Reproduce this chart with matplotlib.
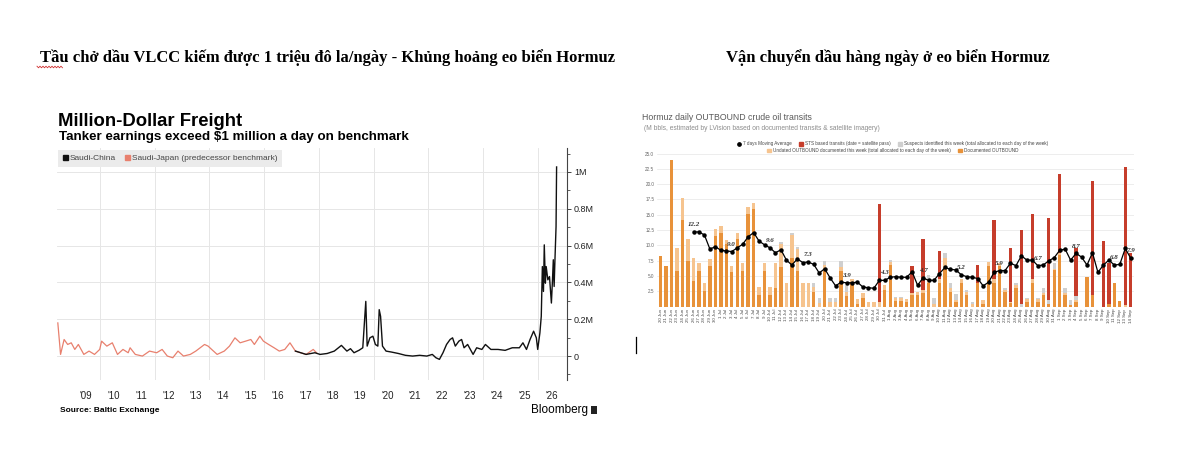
import matplotlib
matplotlib.use("Agg")
import matplotlib.pyplot as plt
from matplotlib.lines import Line2D
from matplotlib.patches import Patch, Rectangle
import numpy as np
import pandas as pd

# ---------------- left chart: Saudi freight earnings ($M / day) ----------------
japan_years = [2008.46, 2008.56, 2008.69, 2008.82, 2008.95, 2009.08, 2009.21, 2009.41, 2009.60,
               2009.80, 2009.99, 2010.06, 2010.25, 2010.45, 2010.64, 2010.84, 2011.03, 2011.10,
               2011.29, 2011.55, 2011.81, 2012.07, 2012.27, 2012.46, 2012.66, 2012.85, 2013.05,
               2013.30, 2013.50, 2013.82, 2013.95, 2014.08, 2014.28, 2014.54, 2014.73, 2014.93,
               2015.12, 2015.32, 2015.51, 2015.64, 2015.84, 2015.97, 2016.16, 2016.36, 2016.55,
               2016.75, 2016.94, 2017.14, 2017.33, 2017.53, 2017.79, 2017.91]
japan_vals = [0.180, 0.009, 0.090, 0.063, 0.072, 0.036, 0.063, 0.009, 0.027,
              0.009, 0.036, 0.081, 0.054, 0.072, 0.009, 0.036, 0.018, 0.045,
              0.009, 0.000, 0.027, 0.018, 0.036, 0.000, -0.009, 0.027, 0.000,
              0.009, 0.027, 0.063, 0.054, 0.036, 0.009, 0.027, 0.054, 0.099,
              0.072, 0.081, 0.090, 0.063, 0.108, 0.081, 0.063, 0.045, 0.027,
              0.036, 0.072, 0.027, 0.018, 0.009, 0.036, 0.018]

china_years = [2017.14, 2017.53, 2017.85, 2018.04, 2018.30, 2018.56, 2018.82, 2019.02, 2019.15,
               2019.28, 2019.47, 2019.60, 2019.71, 2019.76, 2019.86, 2019.97, 2020.06, 2020.15,
               2020.20, 2020.25, 2020.32, 2020.45, 2020.64, 2020.90, 2021.16, 2021.42, 2021.68,
               2021.94, 2022.14, 2022.27, 2022.40, 2022.53, 2022.66, 2022.79, 2022.88, 2022.98,
               2023.11, 2023.21, 2023.30, 2023.43, 2023.63, 2023.76, 2023.95, 2024.08, 2024.28,
               2024.54, 2024.80, 2025.06, 2025.32, 2025.45, 2025.58, 2025.71, 2025.84, 2025.94,
               2025.99, 2026.07, 2026.12, 2026.16, 2026.20, 2026.23, 2026.27, 2026.30, 2026.36,
               2026.42, 2026.49, 2026.53, 2026.56, 2026.59, 2026.62, 2026.66, 2026.68]
china_vals = [0.027, 0.009, 0.018, 0.009, 0.014, 0.027, 0.058, 0.027, 0.040,
              0.018, 0.032, 0.045, 0.297, 0.054, 0.099, 0.108, 0.063, 0.054,
              0.252, 0.216, 0.054, 0.027, 0.022, 0.014, 0.004, 0.000, 0.004,
              0.000, 0.009, -0.009, -0.018, 0.018, 0.063, 0.090, 0.099, 0.054,
              0.081, 0.090, 0.045, 0.063, 0.009, 0.045, 0.036, 0.063, 0.036,
              0.036, 0.031, 0.045, 0.045, 0.072, 0.036, 0.090, 0.135, 0.099,
              0.036, 0.126, 0.216, 0.486, 0.351, 0.604, 0.396, 0.486, 0.414,
              0.432, 0.288, 0.414, 0.523, 0.378, 0.523, 0.703, 1.027]

year_labels = ["'09", "'10", "'11", "'12", "'13", "'14", "'15", "'16", "'17",
               "'18", "'19", "'20", "'21", "'22", "'23", "'24", "'25", "'26"]
money_ticks = [0, 0.2, 0.4, 0.6, 0.8, 1.0]
money_labels = ["0", "0.2M", "0.4M", "0.6M", "0.8M", "1M"]

# ---------------- right chart: Hormuz daily outbound transits (M bbls) ----------------
days = [f"{d.day} {d:%b}" for d in pd.date_range("2025-06-20", "2025-09-14")]

documented = [8.3, 6.6, 23.9, 5.9, 14.1, 7.4, 4.2, 5.9, 2.6, 6.6,
              11.5, 12.0, 10.3, 5.6, 11.0, 5.9, 15.1, 15.9, 1.9, 5.9,
              1.9, 3.1, 6.4, 0, 7.9, 5.9, 0, 0, 2.4, 0,
              5.9, 0, 0, 5.9, 1.8, 4.1, 0.4, 1.4, 0, 0,
              0, 2.8, 6.8, 1.0, 1.0, 0.7, 1.9, 1.9, 2.2, 3.9,
              0, 3.8, 6.2, 2.4, 0.7, 3.9, 1.9, 0, 3.9, 0.4,
              6.6, 3.8, 6.6, 2.4, 0.6, 3.0, 0, 0.8, 3.8, 0.8,
              1.9, 0.4, 6.0, 8.4, 1.9, 0.3, 0.7, 0, 4.9, 1.9,
              0, 0, 0.4, 3.9, 1.0, 0, 0]
undated = [0, 0, 0, 3.7, 3.7, 3.7, 3.8, 1.2, 1.2, 1.2,
           1.2, 1.2, 0.6, 1.1, 1.1, 1.2, 1.1, 1.1, 1.3, 1.2,
           1.3, 4.0, 3.8, 3.8, 3.8, 3.5, 3.8, 3.8, 0.8, 0.6,
           0.9, 0.8, 0.8, 0.6, 0.6, 0.5, 0.8, 0.8, 0.8, 0.8,
           0.7, 0.7, 0.5, 0.4, 0.4, 0.5, 0.4, 0.5, 0.5, 0.7,
           0.4, 0.8, 1.7, 0.6, 0.4, 0.7, 0.5, 0.4, 0, 0.7,
           0.7, 0.8, 0.5, 0.3, 0.2, 0.5, 0, 0.4, 0.8, 0.4,
           0.4, 0, 0.2, 0.3, 0.4, 0, 0.4, 0, 0, 0,
           0, 0, 0, 0, 0, 0.2, 0]
suspects = [0, 0, 0, 0, 0, 0, 0, 0, 0, 0,
            0, 0, 0, 0, 0, 0, 0, 0, 0, 0,
            0, 0, 0.3, 0, 0.3, 0.4, 0, 0, 0.7, 0.8,
            0.6, 0.6, 0.6, 0.9, 1.1, 0, 0, 0, 0, 0,
            0, 0, 0.3, 0.2, 0.2, 0, 0, 0, 0, 0.5,
            1.0, 0, 0.8, 0.8, 1.0, 0, 0.4, 0.4, 0, 0,
            0, 0, 0, 0.3, 0, 0.4, 0.5, 0.2, 0, 0.3,
            0.7, 0.7, 0.9, 0, 0.8, 0.8, 0.6, 0, 0, 0,
            0, 0, 0, 0, 0, 0, 0]
sts = [0, 0, 0, 0, 0, 0, 0, 0, 0, 0,
       0, 0, 0, 0, 0, 0, 0, 0, 0, 0,
       0, 0, 0, 0, 0, 0, 0, 0, 0, 0,
       0, 0, 0, 0, 0, 0, 0, 0, 0, 0,
       16.0, 0, 0, 0, 0, 0, 4.3, 0, 8.4, 0,
       0, 4.5, 0, 0, 0, 0, 0, 0, 2.9, 0,
       0, 9.6, 0, 0, 8.7, 0, 12.0, 0, 10.6, 0,
       0, 13.4, 0, 12.9, 0, 0, 7.8, 0, 0, 18.6,
       0, 10.7, 6.7, 0, 0, 22.6, 8.7]
moving_avg = [np.nan] * 6 + [
    12.2, 12.2, 11.7, 9.4, 9.8, 9.2, 9.1, 9.0, 9.6, 10.2,
    11.4, 12.1, 10.7, 10.1, 9.6, 8.8, 9.3, 7.6, 6.8, 7.8,
    7.2, 7.3, 6.9, 5.5, 6.2, 4.7, 3.4, 4.0, 3.9, 3.9,
    4.0, 3.2, 3.1, 3.0, 4.3, 4.3, 4.8, 4.9, 4.8, 4.8,
    5.7, 3.5, 4.7, 4.3, 4.3, 5.4, 6.4, 6.1, 6.0, 5.2,
    4.9, 4.8, 4.6, 3.4, 4.0, 5.6, 5.9, 5.9, 7.1, 6.7,
    8.3, 7.6, 7.6, 6.7, 6.8, 7.5, 8.0, 9.2, 9.4, 7.6,
    8.7, 8.1, 6.8, 8.8, 5.6, 6.8, 7.6, 6.8, 6.9, 9.5,
    7.9]
labelled_days = list(range(6, 87, 7)) + [86]

W, H = 1200, 471


def fx(px):
    return px / W


def fy(py):
    return 1 - py / H


def main() -> int:
    plt.rcParams["font.family"] = ["Liberation Sans", "DejaVu Sans"]
    fig = plt.figure(figsize=(12, 4.71), dpi=100)
    fig.patch.set_facecolor("white")

    serif = ["Liberation Serif", "DejaVu Serif"]
    fig.text(fx(327), fy(58), "Tầu chở dầu VLCC kiếm được 1 triệu đô la/ngày - Khủng hoảng eo biển Hormuz",
             family=serif, weight="bold", fontsize=12, ha="center", va="center")
    fig.text(fx(888), fy(58), "Vận chuyển dầu hàng ngày ở eo biển Hormuz",
             family=serif, weight="bold", fontsize=12, ha="center", va="center")
    # spell-check squiggle and text cursor from the screenshot
    sx = np.arange(37, 63, 1.5)
    sy = 67 + np.where(np.arange(len(sx)) % 2 == 0, -0.8, 0.8)
    fig.add_artist(Line2D(fx(sx), fy(sy), color="#d03030", lw=0.6))
    fig.add_artist(Line2D([fx(636), fx(636)], [fy(337), fy(353)], color="black", lw=0.9))

    # ---------------- left chart ----------------
    fig.text(fx(58), fy(121), "Million-Dollar Freight", weight="bold", fontsize=13.3, va="center")
    fig.text(fx(59), fy(137), "Tanker earnings exceed $1 million a day on benchmark",
             weight="bold", fontsize=9.6, va="center")

    ax = fig.add_axes([fx(57), fy(380), fx(567) - fx(57), fy(148) - fy(380)])
    ax.plot(japan_years, japan_vals, color="#e8806e", lw=0.9)
    ax.plot(china_years, china_vals, color="#111111", lw=1.0)
    ax.set_xlim(2008.43, 2027.06)
    ax.set_ylim(-0.13, 1.13)

    ax.yaxis.tick_right()
    ax.set_yticks(money_ticks)
    ax.set_yticklabels(money_labels)
    ax.set_yticks(np.arange(-0.1, 1.15, 0.1), minor=True)
    ax.tick_params(axis="y", which="major", direction="out", length=3, width=0.7,
                   color="#444444", labelsize=6.5, pad=2, labelcolor="#222222")
    ax.tick_params(axis="y", which="minor", direction="out", length=2, width=0.6, color="#444444")
    ax.grid(axis="y", which="major", color="#e6e6e6", lw=0.7)

    ax.set_xticks(np.arange(2009.5, 2027, 1))
    ax.set_xticklabels(year_labels)
    ax.set_xticks(np.arange(2010, 2027, 2), minor=True)
    ax.tick_params(axis="x", which="both", length=0, labelsize=7, pad=8, labelcolor="#222222")
    ax.grid(axis="x", which="minor", color="#e6e6e6", lw=0.7)
    for side in ["top", "left", "bottom"]:
        ax.spines[side].set_visible(False)
    ax.spines["right"].set_color("#444444")
    ax.spines["right"].set_linewidth(0.8)

    leg = ax.legend(handles=[Patch(color="#111111"), Patch(color="#e8806e")],
                    labels=["Saudi-China", "Saudi-Japan (predecessor benchmark)"],
                    ncol=2, loc="upper left", bbox_to_anchor=(fx(58), fy(150)),
                    bbox_transform=fig.transFigure, frameon=True, fancybox=False,
                    facecolor="#ebebeb", edgecolor="none", framealpha=1, fontsize=6,
                    handlelength=0.6, handleheight=0.6, handletextpad=0.3,
                    columnspacing=1.0, borderpad=0.55, borderaxespad=0)
    for t in leg.get_texts():
        t.set_color("#444444")

    fig.text(fx(60), fy(411), "Source: Baltic Exchange", weight="bold", fontsize=6, va="center")
    fig.text(fx(588), fy(410), "Bloomberg", fontsize=8.5, ha="right", va="center")
    fig.add_artist(Rectangle((fx(591), fy(414)), fx(6), 8 / H, transform=fig.transFigure,
                             facecolor="#222222", edgecolor="none"))

    # ---------------- right chart ----------------
    fig.text(fx(642), fy(117), "Hormuz daily OUTBOUND crude oil transits",
             fontsize=6.3, color="#5a5a5a", va="center")
    fig.text(fx(644), fy(128), "(M bbls, estimated by LVision based on documented transits & satellite imagery)",
             fontsize=4.8, color="#8c8c8c", va="center")

    axr = fig.add_axes([fx(657), fy(306.7), fx(1134) - fx(657), fy(153.5) - fy(306.7)])
    x = np.arange(len(days))
    doc = np.array(documented)
    und = np.array(undated)
    sus = np.array(suspects)
    c_doc, c_und, c_sus, c_sts = "#e8923a", "#f6c48f", "#cfcfcf", "#c63d2b"
    axr.bar(x, doc, 0.62, color=c_doc)
    axr.bar(x, und, 0.62, bottom=doc, color=c_und)
    axr.bar(x, sus, 0.62, bottom=doc + und, color=c_sus)
    axr.bar(x, sts, 0.62, bottom=doc + und + sus, color=c_sts)
    axr.plot(x, moving_avg, color="black", lw=0.9, marker="o", ms=2.2)
    for i in labelled_days:
        axr.annotate(f"{moving_avg[i]:.1f}", (i, moving_avg[i]), xytext=(0, 3.5),
                     textcoords="offset points", ha="center", va="bottom", fontsize=5,
                     family=serif, style="italic", weight="bold", color="#333333")

    axr.set_xlim(-0.68, 86.6)
    axr.set_ylim(0, 25)
    axr.set_yticks(np.arange(0, 25.1, 2.5))
    axr.set_yticklabels([""] + [f"{v:.1f}" for v in np.arange(2.5, 25.1, 2.5)])
    axr.tick_params(axis="y", length=0, labelsize=3.3, labelcolor="#666666", pad=2)
    axr.set_xticks(x)
    axr.set_xticklabels(days, rotation=90)
    axr.tick_params(axis="x", length=0, labelsize=3.2, labelcolor="#444444", pad=1.5)
    axr.grid(axis="y", color="#e6e6e6", lw=0.5)
    axr.set_axisbelow(True)
    for side in axr.spines:
        axr.spines[side].set_visible(False)

    row1 = [Line2D([], [], color="black", marker="o", ls="none", ms=2.4),
            Patch(color=c_sts), Patch(color=c_sus)]
    lab1 = ["7 days Moving Average", "STS based transits (date = satellite pass)",
            "Suspects identified this week (total allocated to each day of the week)"]
    row2 = [Patch(color=c_und), Patch(color=c_doc)]
    lab2 = ["Undated OUTBOUND documented this week (total allocated to each day of the week)",
            "Documented OUTBOUND"]
    for handles, labels, ypos in [(row1, lab1, 144), (row2, lab2, 150.5)]:
        lg = fig.legend(handles=handles, labels=labels, loc="center", ncol=len(handles),
                        bbox_to_anchor=(fx(893), fy(ypos)), frameon=False, fontsize=3.3,
                        handlelength=0.8, handleheight=0.8, handletextpad=0.5,
                        columnspacing=1.6, borderpad=0, borderaxespad=0)
        for t in lg.get_texts():
            t.set_color("#444444")

    fig.savefig("out.png", dpi=100, facecolor="white")
    return 0


if __name__ == "__main__":
    main()
